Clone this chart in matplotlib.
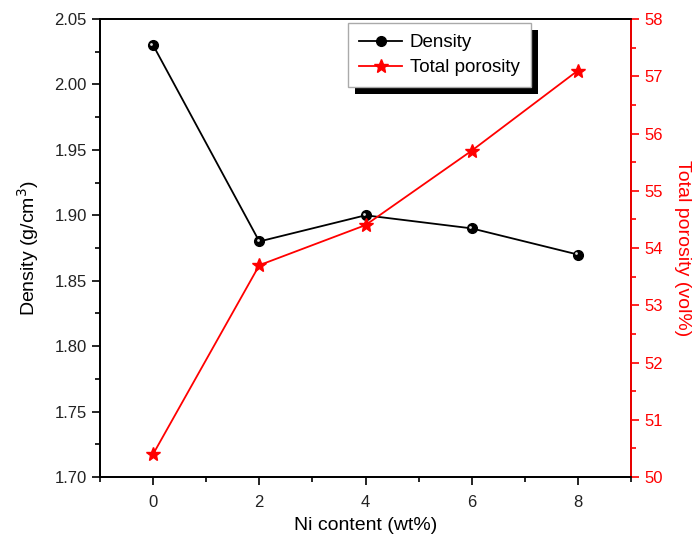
import matplotlib
matplotlib.use("Agg")
import matplotlib.pyplot as plt
from matplotlib.patches import Rectangle
from matplotlib.ticker import MultipleLocator
import matplotlib.transforms as mtransforms

plt.rcParams['font.family'] = ['Liberation Sans', 'DejaVu Sans']

# Data
ni_content = [0, 2, 4, 6, 8]
density = [2.03, 1.88, 1.90, 1.89, 1.87]
porosity = [50.4, 53.7, 54.4, 55.7, 57.1]

red = "#ff0000"

fig = plt.figure(figsize=(6.97, 5.49), dpi=100)
ax = fig.add_axes([0.1435, 0.1311, 0.7618, 0.8343])
ax2 = ax.twinx()

l1, = ax.plot(ni_content, density, color="black", lw=1.3, marker="o",
              markersize=7, markerfacecolor="black", markeredgecolor="black",
              label="Density", zorder=3)
# little highlight on the ball markers
hl = mtransforms.offset_copy(ax.transData, fig=fig, x=-1.2, y=1.2, units="points")
ax.plot(ni_content, density, ls="none", marker="o", markersize=2,
        markerfacecolor="#dddddd", markeredgecolor="none", transform=hl, zorder=4)

l2, = ax2.plot(ni_content, porosity, color=red, lw=1.3, marker="*",
               markersize=10, markerfacecolor=red, markeredgecolor=red,
               label="Total porosity")

ax.set_xlim(-1, 9)
ax.set_ylim(1.70, 2.05)
ax2.set_ylim(50, 58)

ax.xaxis.set_major_locator(MultipleLocator(2))
ax.xaxis.set_minor_locator(MultipleLocator(1))
ax.yaxis.set_major_locator(MultipleLocator(0.05))
ax.yaxis.set_minor_locator(MultipleLocator(0.025))
ax2.yaxis.set_major_locator(MultipleLocator(1))
ax2.yaxis.set_minor_locator(MultipleLocator(0.5))
ax.yaxis.set_major_formatter(matplotlib.ticker.FormatStrFormatter("%.2f"))

for a in (ax, ax2):
    for s in a.spines.values():
        s.set_linewidth(1.3)
ax2.spines["right"].set_color(red)

ax.tick_params(axis="both", which="major", direction="out", length=6, width=1.2,
               labelsize=12, colors="black", labelcolor="#222222")
ax.tick_params(axis="x", which="major", pad=7)
ax.tick_params(axis="both", which="minor", direction="out", length=3.5, width=1.2)
ax2.tick_params(axis="y", which="major", direction="out", length=6, width=1.2,
                labelsize=12, colors=red, labelcolor=red)
ax2.tick_params(axis="y", which="minor", direction="out", length=3.5, width=1.2,
                colors=red)

ax.set_xlabel("Ni content (wt%)", fontsize=14, labelpad=5)
ax.set_ylabel("Density (g/cm$^3$)", fontsize=14, labelpad=10)
ax2.set_ylabel("Total porosity (vol%)", fontsize=14, color=red, rotation=270,
               labelpad=20)

leg = ax2.legend(handles=[l1, l2], loc="upper left",
                 bbox_to_anchor=(0.467, 0.991), borderaxespad=0, fontsize=13.5,
                 frameon=True, fancybox=False, edgecolor="#aaaaaa",
                 framealpha=1, handlelength=2.3, handletextpad=0.4,
                 borderpad=0.6, labelspacing=0.4)
leg.get_frame().set_linewidth(1.0)
leg.set_zorder(10)

# hard black drop shadow behind the legend box
fig.canvas.draw()
bb = leg.get_window_extent()
inv = fig.transFigure.inverted()
(x0, y0), (x1, y1) = inv.transform([[bb.x0 + 7, bb.y0 - 7], [bb.x1 + 7, bb.y1 - 7]])
shadow = Rectangle((x0, y0), x1 - x0, y1 - y0, transform=fig.transFigure,
                   facecolor="black", edgecolor="none", zorder=9)
ax2.add_artist(shadow)
shadow.set_clip_on(False)

fig.savefig("out.png", dpi=100)
